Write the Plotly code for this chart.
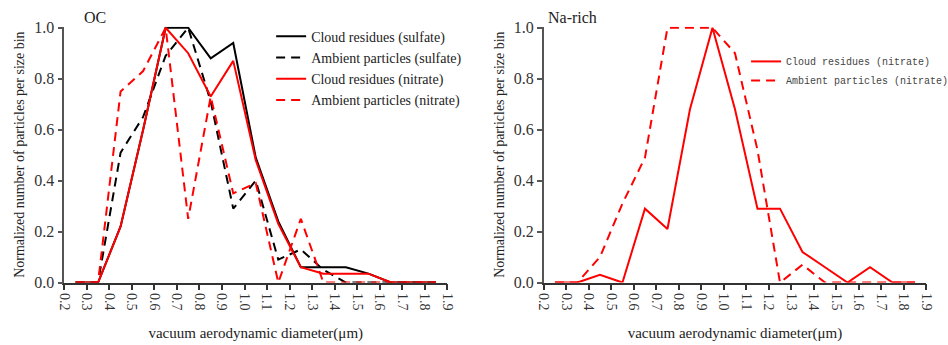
import plotly.graph_objects as go

# bin centres (µm)
diam = [0.25, 0.35, 0.45, 0.55, 0.65, 0.75, 0.85, 0.95, 1.05, 1.15,
        1.25, 1.35, 1.45, 1.55, 1.65, 1.75, 1.85]

# OC panel
oc_cloud_sulfate = [0, 0, 0.22, 0.60, 1.00, 1.00, 0.88, 0.94, 0.49, 0.24,
                    0.06, 0.06, 0.06, 0.035, 0, 0, 0]
oc_ambient_sulfate = [0, 0, 0.51, 0.65, 0.89, 1.00, 0.71, 0.29, 0.40, 0.09,
                      0.13, 0.05, 0, 0, 0, 0, 0]
oc_cloud_nitrate = [0, 0, 0.22, 0.60, 1.00, 0.90, 0.73, 0.87, 0.48, 0.23,
                    0.06, 0.035, 0.035, 0.035, 0, 0, 0]
oc_ambient_nitrate = [0, 0, 0.75, 0.83, 1.00, 0.25, 0.73, 0.35, 0.39, 0,
                      0.25, 0, 0, 0, 0, 0, 0]

# Na-rich panel
na_cloud_nitrate = [0, 0, 0.03, 0, 0.29, 0.21, 0.68, 1.00, 0.68, 0.29,
                    0.29, 0.12, 0.06, 0, 0.06, 0, 0]
na_ambient_nitrate = [0, 0, 0.10, 0.31, 0.49, 1.00, 1.00, 1.00, 0.90, 0.52,
                      0, 0.07, 0, 0, 0, 0, 0]

x_ticks = [round(0.2 + 0.1 * i, 1) for i in range(18)]
y_ticks = [0.0, 0.2, 0.4, 0.6, 0.8, 1.0]

SERIF = "Liberation Serif, Times New Roman, DejaVu Serif, serif"
MONO = "Liberation Mono, Courier New, DejaVu Sans Mono, monospace"
RED = "#ff0000"
BLACK = "#000000"
DASH = "9px,6px"

fig = go.Figure()

def add(x, y, name, color, dash, xa, ya, legend):
    fig.add_trace(go.Scatter(
        x=x, y=y, name=name, mode="lines",
        line=dict(color=color, width=2, dash=dash),
        xaxis=xa, yaxis=ya, legend=legend))

add(diam, oc_cloud_sulfate, "Cloud residues (sulfate)", BLACK, "solid", "x", "y", "legend")
add(diam, oc_ambient_sulfate, "Ambient particles (sulfate)", BLACK, DASH, "x", "y", "legend")
add(diam, oc_cloud_nitrate, "Cloud residues (nitrate)", RED, "solid", "x", "y", "legend")
add(diam, oc_ambient_nitrate, "Ambient particles (nitrate)", RED, DASH, "x", "y", "legend")
add(diam, na_cloud_nitrate, "Cloud residues (nitrate)", RED, "solid", "x2", "y2", "legend2")
add(diam, na_ambient_nitrate, "Ambient particles (nitrate)", RED, DASH, "x2", "y2", "legend2")

xaxis_common = dict(
    range=[0.2, 1.9], tickvals=x_ticks, ticktext=[f"{v:.1f}" for v in x_ticks],
    tickangle=90, ticks="outside", ticklen=6, tickwidth=1.5, tickcolor="#333",
    showline=True, linecolor="#333", linewidth=1.5, showgrid=False, zeroline=False,
    automargin=False,
    tickfont=dict(family=SERIF, size=14, color="#333"),
    title=dict(text="vacuum aerodynamic diameter(\u03bcm)",
               font=dict(family=SERIF, size=15, color="#222"), standoff=18),
)
yaxis_common = dict(
    range=[0, 1.004], tickvals=y_ticks, ticktext=[f"{v:.1f}" for v in y_ticks],
    ticks="outside", ticklen=5, tickwidth=1.5, tickcolor="#555",
    showline=True, linecolor="#555", linewidth=1.5, showgrid=False, zeroline=False,
    automargin=False,
    tickfont=dict(family=SERIF, size=16, color="#333"),
    title=dict(text="Normalized number of particles per size bin",
               font=dict(family=SERIF, size=14, color="#222"), standoff=6),
)

fig.update_layout(
    width=948, height=345,
    margin=dict(l=0, r=0, t=0, b=0, autoexpand=False),
    paper_bgcolor="white", plot_bgcolor="white",
    xaxis=dict(domain=[0.0678, 0.4718], anchor="y", **xaxis_common),
    yaxis=dict(domain=[0.181, 0.9226], anchor="x", **yaxis_common),
    xaxis2=dict(domain=[0.5735, 0.9771], anchor="y2", **xaxis_common),
    yaxis2=dict(domain=[0.181, 0.9226], anchor="x2", **yaxis_common),
    legend=dict(x=0.286, y=0.94, xanchor="left", yanchor="top",
                bgcolor="rgba(0,0,0,0)", tracegroupgap=0,
                font=dict(family=SERIF, size=14, color="#222"),
                itemwidth=30),
    legend2=dict(x=0.787, y=0.864, xanchor="left", yanchor="top",
                 bgcolor="rgba(0,0,0,0)", tracegroupgap=0,
                 font=dict(family=MONO, size=10, color="#444"),
                 itemwidth=30),
    showlegend=True,
    annotations=[
        dict(text="OC", x=0.086, y=0.95, xref="paper", yref="paper",
             xanchor="left", yanchor="middle", showarrow=False,
             font=dict(family=SERIF, size=16, color="#222")),
        dict(text="Na-rich", x=0.576, y=0.95, xref="paper", yref="paper",
             xanchor="left", yanchor="middle", showarrow=False,
             font=dict(family=SERIF, size=16, color="#222")),
    ],
)

fig.write_html("out.html")
